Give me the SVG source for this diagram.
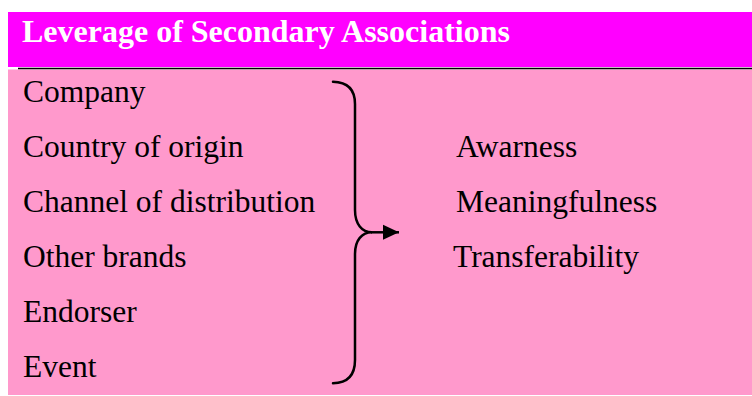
<svg xmlns="http://www.w3.org/2000/svg" width="752" height="396" viewBox="0 0 752 396">
  <style>
    .item { font-family: "Liberation Serif", "Times New Roman", serif; font-size: 31.5px; fill: #000; }
    .title { font-family: "Liberation Serif", "Times New Roman", serif; font-size: 32px; font-weight: bold; fill: #fff; }
    .brace { fill: none; stroke: #000; stroke-width: 2.5; stroke-linecap: round; }
  </style>
  <defs>
    <marker id="arrow" markerUnits="userSpaceOnUse" markerWidth="18" markerHeight="16" refX="16" refY="8" orient="auto">
      <path d="M0,0.5 L16,8 L0,15.5 Z" fill="#000"/>
    </marker>
  </defs>
  <rect width="752" height="396" fill="#fff"/>

  <g id="header">
    <rect x="8" y="12" width="744" height="55" fill="#ff00ff"/>
    <text class="title" x="22" y="41.7">Leverage of Secondary Associations</text>
  </g>

  <g id="panel">
    <rect x="8" y="69.5" width="744" height="325.5" fill="#ff99cc"/>
    <line x1="18" y1="68.5" x2="752" y2="68.5" stroke="#000" stroke-width="1.5"/>
  </g>

  <g id="sources">
    <text class="item" x="23" y="101.7">Company</text>
    <text class="item" x="23" y="156.7">Country of origin</text>
    <text class="item" x="23" y="211.7">Channel of distribution</text>
    <text class="item" x="23" y="266.7">Other brands</text>
    <text class="item" x="23" y="321.7">Endorser</text>
    <text class="item" x="23" y="376.7">Event</text>
  </g>

  <g id="outcomes">
    <text class="item" x="456" y="156.7">Awarness</text>
    <text class="item" x="456" y="211.7">Meaningfulness</text>
    <text class="item" x="453" y="266.7">Transferability</text>
  </g>

  <g id="connectors">
    <path class="brace" d="M333,81.7 C348,82 355,90 355,104 L355,210 C355,224 362,232.3 372,232.3 C362,232.3 355,240 355,254 L355,360 C355,375 348,383 333,383.3"/>
    <line x1="371" y1="232.3" x2="399" y2="232.3" stroke="#000" stroke-width="2.5" marker-end="url(#arrow)"/>
  </g>
</svg>
